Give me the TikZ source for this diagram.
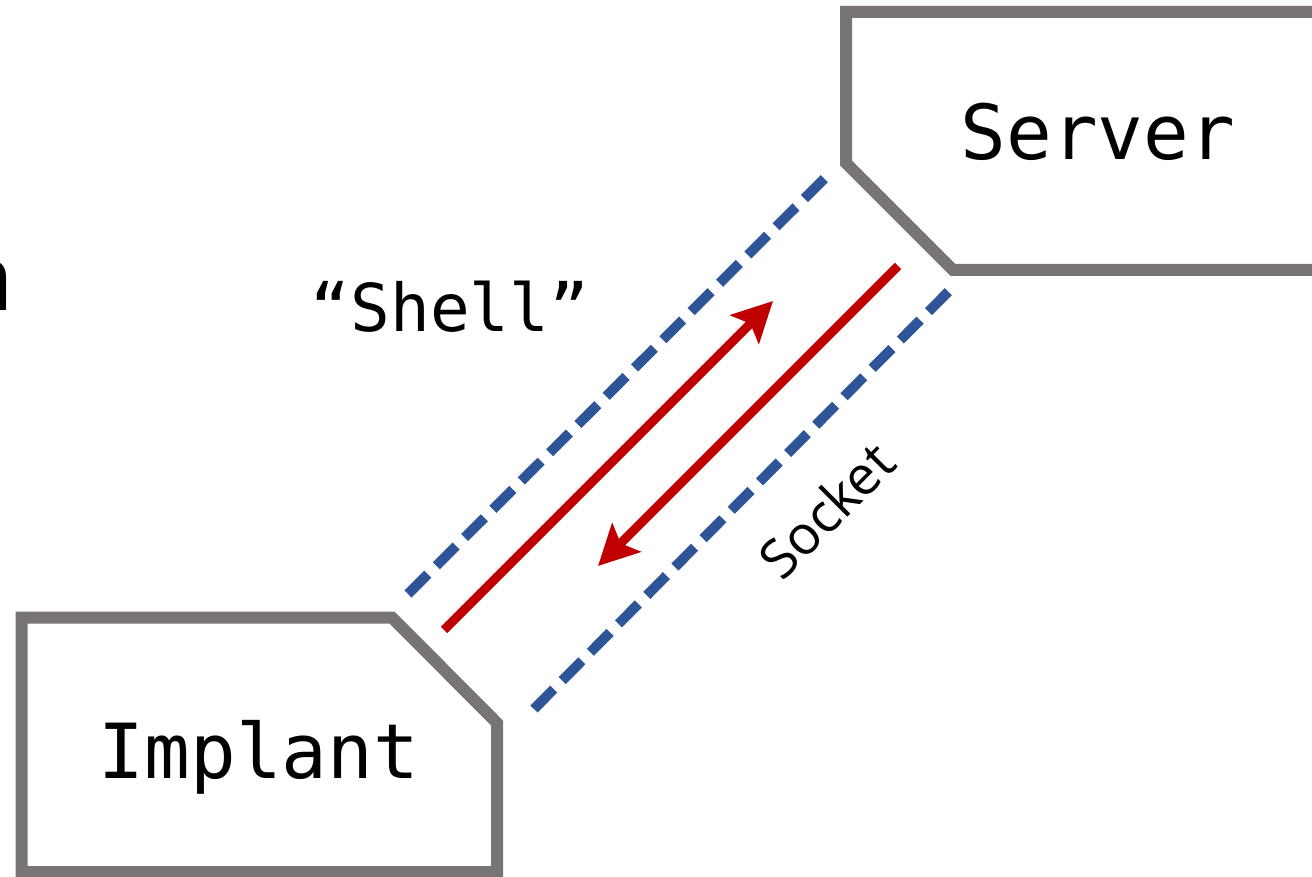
\documentclass[tikz,border=0pt]{standalone}
\usepackage{fontspec}
\setmainfont{Open Sans}
\newfontfamily\codefont{DejaVu Sans Mono}
\usetikzlibrary{arrows.meta}
\definecolor{boxgray}{HTML}{787473}
\definecolor{sockblue}{HTML}{2E5597}
\definecolor{flowred}{HTML}{C00000}
\tikzset{
  hostbox/.style={draw=boxgray, line width=12pt, line join=miter},
  socketline/.style={draw=sockblue, line width=10pt, dash pattern=on 28pt off 12pt},
  flowline/.style={draw=flowred, line width=9pt,
    -{Stealth[length=40pt,width=40pt,inset=8pt]}},
  hostlabel/.style={font=\codefont\fontsize{76}{80}\selectfont, anchor=base, inner sep=0pt},
}
\begin{document}
\begin{tikzpicture}[x=1pt,y=-1pt]
  \useasboundingbox (0,0) rectangle (1312,877);
  % host outlines with cut corners
  \draw[hostbox] (1330,12) -- (846,12) -- (846,163) -- (953,270) -- (1330,270);
  \draw[hostbox] (21.5,617.5) -- (392,617.5) -- (497,723) -- (497,872) -- (21.5,872) -- cycle;
  \node[hostlabel] (server) at (1098,160) {Server};
  \node[hostlabel] (implant) at (259,778) {Implant};
  % cut-off heading letter at the left margin
  \node[anchor=base east, inner sep=0pt, font=\fontsize{92}{96}\selectfont] (head) at (14,311) {n};
  % socket pair
  \coordinate (sa1) at (408,594);
  \coordinate (sa2) at (825,178);
  \coordinate (sb1) at (534,709);
  \coordinate (sb2) at (950,290);
  \draw[socketline] (sa1) -- (sa2);
  \draw[socketline] (sb1) -- (sb2);
  % command and response flows
  \coordinate (ra1) at (444,630);
  \coordinate (ra2) at (773,301);
  \coordinate (rb1) at (898,266);
  \coordinate (rb2) at (598,566);
  \draw[flowline] (ra1) -- (ra2);
  \draw[flowline] (rb1) -- (rb2);
  % labels
  \node[anchor=base, inner sep=0pt, font=\codefont\fontsize{66}{70}\selectfont] (shell) at (450,332) {“Shell”};
  \node[rotate=45, inner sep=0pt, font=\fontsize{54}{58}\selectfont] (socket) at (826,510) {Socket};
\end{tikzpicture}
\end{document}
